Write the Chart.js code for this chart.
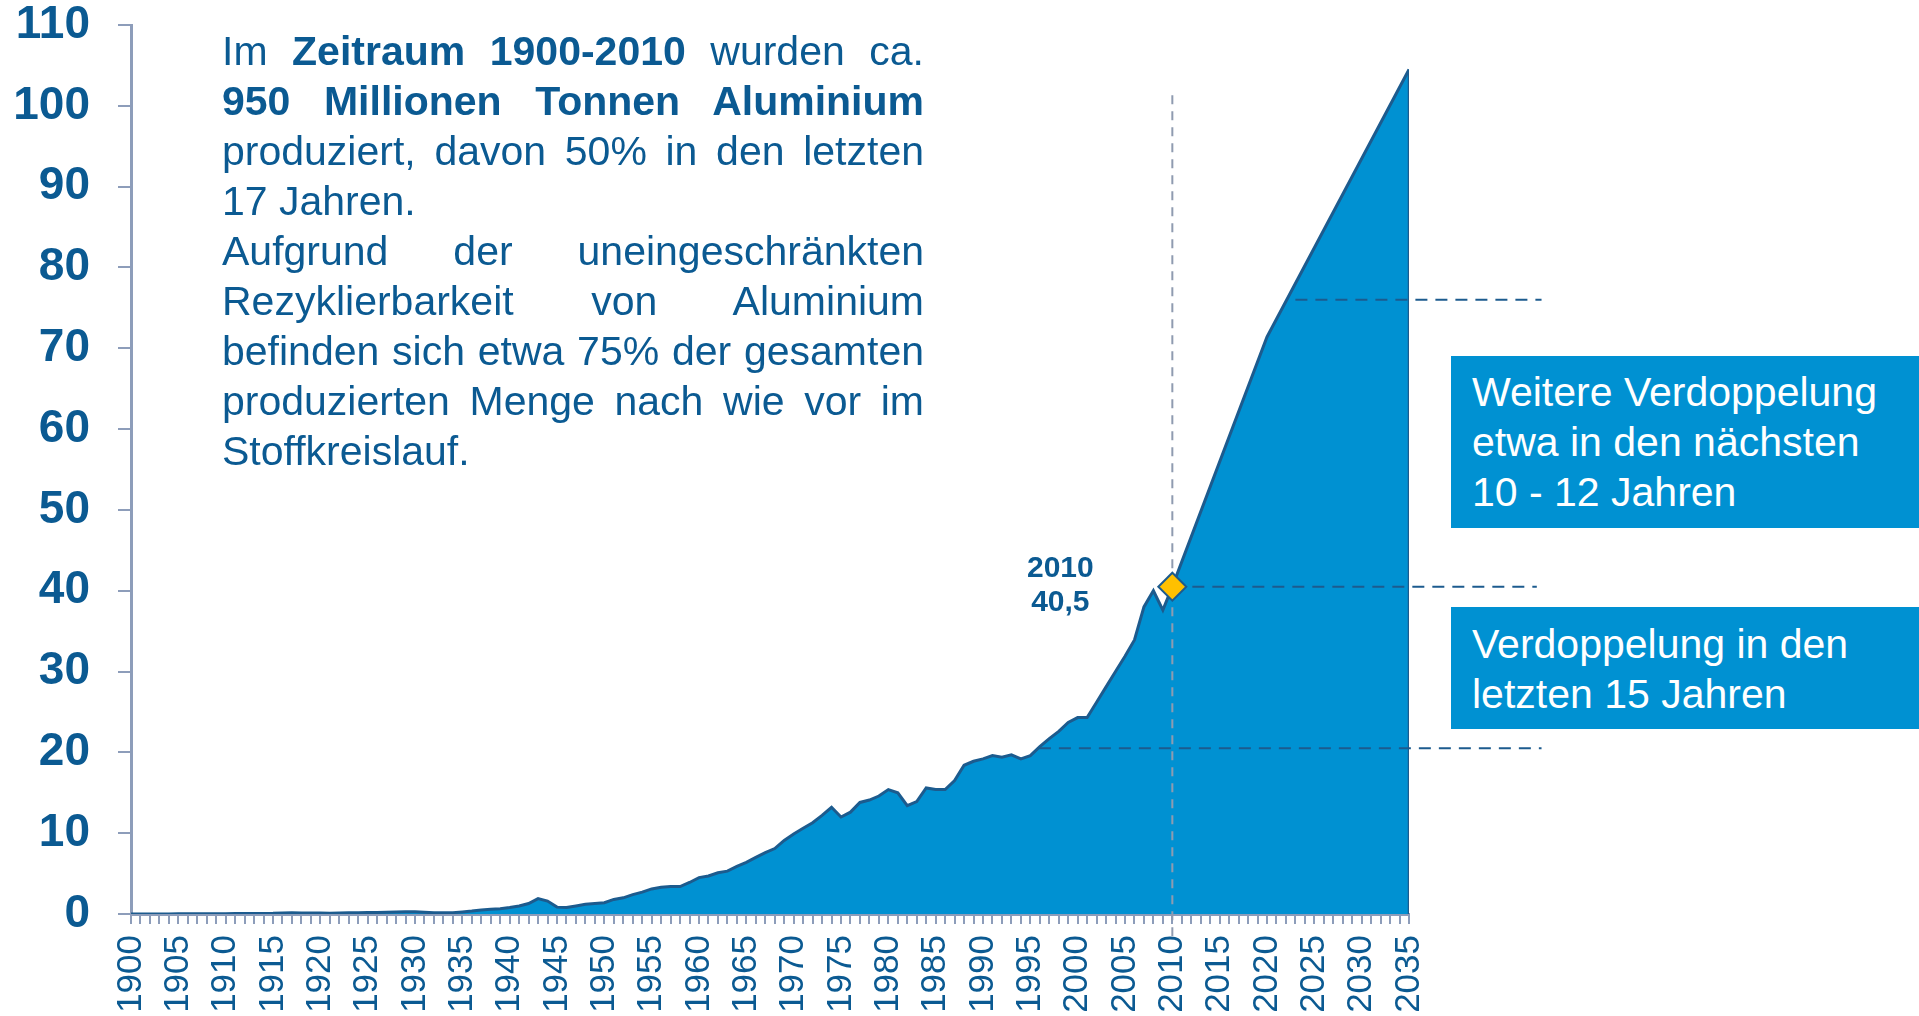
<!DOCTYPE html>
<html lang="de">
<head>
<meta charset="utf-8">
<script src="https://cdn.jsdelivr.net/npm/chart.js@4.4.1/dist/chart.umd.min.js"></script>
<style>
  body { margin: 0; background: #fff; overflow: hidden; }
  #wrap { position: relative; width: 1919px; height: 1016px; }
  #absatz {
    position: absolute; left: 222px; top: 26px; width: 702px;
    font: 41px/50px "Liberation Sans", Arial, sans-serif; color: #0b5a92;
  }
  .z { text-align: justify; text-align-last: justify; }
  .z.ende { text-align-last: left; }
  .box {
    position: absolute; left: 1451px; width: 468px; background: #0091d2;
    color: #fff; font: 41px/50px "Liberation Sans", Arial, sans-serif;
    box-sizing: border-box; padding-left: 21px;
  }
</style>
</head>
<body>
<div id="wrap">
  <canvas id="graficoAlu" width="1919" height="1016"></canvas>
  <div id="absatz">
    <div class="z">Im <b>Zeitraum 1900-2010</b> wurden ca.</div>
    <div class="z"><b>950 Millionen Tonnen Aluminium</b></div>
    <div class="z">produziert, davon 50% in den letzten</div>
    <div class="z ende">17 Jahren.</div>
    <div class="z">Aufgrund der uneingeschränkten</div>
    <div class="z">Rezyklierbarkeit von Aluminium</div>
    <div class="z">befinden sich etwa 75% der gesamten</div>
    <div class="z">produzierten Menge nach wie vor im</div>
    <div class="z ende">Stoffkreislauf.</div>
  </div>
  <div class="box" style="top:356px;height:172px;padding-top:11px;">Weitere Verdoppelung<br>etwa in den nächsten<br>10 - 12 Jahren</div>
  <div class="box" style="top:607px;height:122px;padding-top:12px;">Verdoppelung in den<br>letzten 15 Jahren</div>
</div>
<script>
// Weltproduktion Aluminium, Mio. t
const jahre = [
  1900, 1901, 1902, 1903, 1904, 1905, 1906, 1907, 1908, 1909,
  1910, 1911, 1912, 1913, 1914, 1915, 1916, 1917, 1918, 1919,
  1920, 1921, 1922, 1923, 1924, 1925, 1926, 1927, 1928, 1929,
  1930, 1931, 1932, 1933, 1934, 1935, 1936, 1937, 1938, 1939,
  1940, 1941, 1942, 1943, 1944, 1945, 1946, 1947, 1948, 1949,
  1950, 1951, 1952, 1953, 1954, 1955, 1956, 1957, 1958, 1959,
  1960, 1961, 1962, 1963, 1964, 1965, 1966, 1967, 1968, 1969,
  1970, 1971, 1972, 1973, 1974, 1975, 1976, 1977, 1978, 1979,
  1980, 1981, 1982, 1983, 1984, 1985, 1986, 1987, 1988, 1989,
  1990, 1991, 1992, 1993, 1994, 1995, 1996, 1997, 1998, 1999,
  2000, 2001, 2002, 2003, 2004, 2005, 2006, 2007, 2008, 2009,
  2010
];
const produktion = [
  0.01, 0.01, 0.01, 0.01, 0.01, 0.02, 0.02, 0.02, 0.02, 0.03,
  0.04, 0.05, 0.06, 0.07, 0.07, 0.08, 0.12, 0.14, 0.13, 0.12,
  0.13, 0.09, 0.11, 0.14, 0.16, 0.18, 0.2, 0.22, 0.25, 0.28,
  0.27, 0.22, 0.15, 0.14, 0.17, 0.26, 0.36, 0.49, 0.58, 0.66,
  0.8, 1.0, 1.3, 1.9, 1.6, 0.85, 0.8, 1.0, 1.2, 1.3,
  1.4, 1.8, 2.0, 2.4, 2.7, 3.1, 3.3, 3.4, 3.4, 3.9,
  4.5, 4.7, 5.1, 5.3, 5.9, 6.4, 7.0, 7.6, 8.1, 9.1,
  9.9, 10.6, 11.3, 12.2, 13.2, 12.0, 12.6, 13.8, 14.1, 14.6,
  15.4, 15.0, 13.4, 13.9, 15.6, 15.4, 15.4, 16.5, 18.4, 18.9,
  19.2, 19.6, 19.4, 19.7, 19.2, 19.6, 20.7, 21.7, 22.6, 23.7,
  24.3, 24.3, 26.2, 28.1, 30.0, 31.9, 33.9, 38.0, 40.0, 37.6,
  40.5
];
// Prognose
const prognoseJahre = [2020, 2035];
const prognoseWerte = [71.4, 104.5];

const markJahr = 2010;
const markWert = 40.5;

const yTicks = [0, 10, 20, 30, 40, 50, 60, 70, 80, 90, 100, 110];
const xLabelSchritt = 5;

// Hilfslinien (Jahr von/bis, Wert)
const hilfslinien = [
  { von: 2023, bis: 2049, wert: 76 },
  { von: 2010, bis: 2048.5, wert: 40.5 },
  { von: 1995.9, bis: 2049, wert: 20.5 }
];
const senkrechte = { jahr: 2010, oben: 101.3, unten: -3.5 };

const blau = '#0091d2';
const dunkelblau = '#1c5b8e';
const schrift = '#0b5a92';
const achse = '#8d9dba';

Chart.defaults.font.family = '"Liberation Sans", Arial, sans-serif';

const alleJahre = jahre.concat(prognoseJahre);
const alleWerte = produktion.concat(prognoseWerte);
const punkte = alleJahre.map((j, i) => ({ x: j, y: alleWerte[i] }));
const letztesJahr = alleJahre[alleJahre.length - 1];
const letzterWert = alleWerte[alleWerte.length - 1];

const datasets = [
  {
    data: punkte,
    fill: 'origin',
    backgroundColor: blau,
    borderColor: dunkelblau,
    borderWidth: 3,
    pointRadius: 0,
    order: 3
  },
  {
    data: [{ x: letztesJahr, y: 0 }, { x: letztesJahr, y: letzterWert }],
    borderColor: dunkelblau,
    borderWidth: 2.5,
    pointRadius: 0,
    fill: false,
    order: 2
  },
  {
    data: [{ x: senkrechte.jahr, y: senkrechte.oben }, { x: senkrechte.jahr, y: senkrechte.unten }],
    borderColor: '#8f9bb0',
    borderWidth: 2,
    borderDash: [9, 7],
    pointRadius: 0,
    fill: false,
    clip: false,
    order: 1
  }
];

hilfslinien.forEach(h => {
  datasets.push({
    data: [{ x: h.von, y: h.wert }, { x: h.bis, y: h.wert }],
    borderColor: dunkelblau,
    borderWidth: 2,
    borderDash: [12, 8],
    pointRadius: 0,
    fill: false,
    clip: false,
    order: 1
  });
});

datasets.push({
  data: [{ x: markJahr, y: markWert }],
  pointStyle: 'rectRot',
  pointRadius: 14,
  pointBackgroundColor: '#ffc000',
  pointBorderColor: dunkelblau,
  pointBorderWidth: 2,
  showLine: false,
  clip: false,
  order: 0
});

const beschriftung = {
  id: 'beschriftung',
  afterDatasetsDraw(chart) {
    const { ctx, scales: { x, y } } = chart;
    const px = x.getPixelForValue(markJahr);
    const py = y.getPixelForValue(markWert);
    ctx.save();
    ctx.font = 'bold 30px "Liberation Sans", Arial, sans-serif';
    ctx.fillStyle = schrift;
    ctx.textAlign = 'center';
    ctx.textBaseline = 'middle';
    ctx.fillText(String(markJahr), px - 112, py - 18);
    ctx.fillText(String(markWert).replace('.', ','), px - 112, py + 16);
    ctx.restore();
  }
};

const graficoAlu = new Chart(document.getElementById('graficoAlu'), {
  type: 'line',
  data: { datasets: datasets },
  options: {
    responsive: false,
    animation: false,
    events: [],
    layout: { autoPadding: false, padding: { left: 0, top: 25, right: 510, bottom: 0 } },
    plugins: { legend: { display: false }, tooltip: { enabled: false } },
    scales: {
      x: {
        type: 'linear',
        min: 1900,
        max: 2035,
        afterFit: s => { s.height = 102; s.paddingLeft = 0; s.paddingRight = 0; },
        border: { color: achse, width: 3 },
        grid: { drawOnChartArea: false, drawTicks: true, tickLength: 10, color: achse, lineWidth: 2 },
        ticks: {
          stepSize: 1,
          maxTicksLimit: 200,
          autoSkip: false,
          minRotation: 90,
          maxRotation: 90,
          padding: 11,
          color: schrift,
          font: { size: 35, lineHeight: 1 },
          callback: v => (v % xLabelSchritt === 0 ? String(v) : '')
        }
      },
      y: {
        min: yTicks[0],
        max: yTicks[yTicks.length - 1],
        afterFit: s => { s.width = 131; s.paddingTop = 0; s.paddingBottom = 0; },
        afterBuildTicks: s => { s.ticks = yTicks.map(v => ({ value: v })); },
        border: { color: achse, width: 3 },
        grid: { drawOnChartArea: false, drawTicks: true, tickLength: 13, color: achse, lineWidth: 2 },
        ticks: {
          padding: 28,
          color: schrift,
          font: { size: 46, weight: 'bold', lineHeight: 1 }
        }
      }
    }
  },
  plugins: [beschriftung]
});
</script>
</body>
</html>
